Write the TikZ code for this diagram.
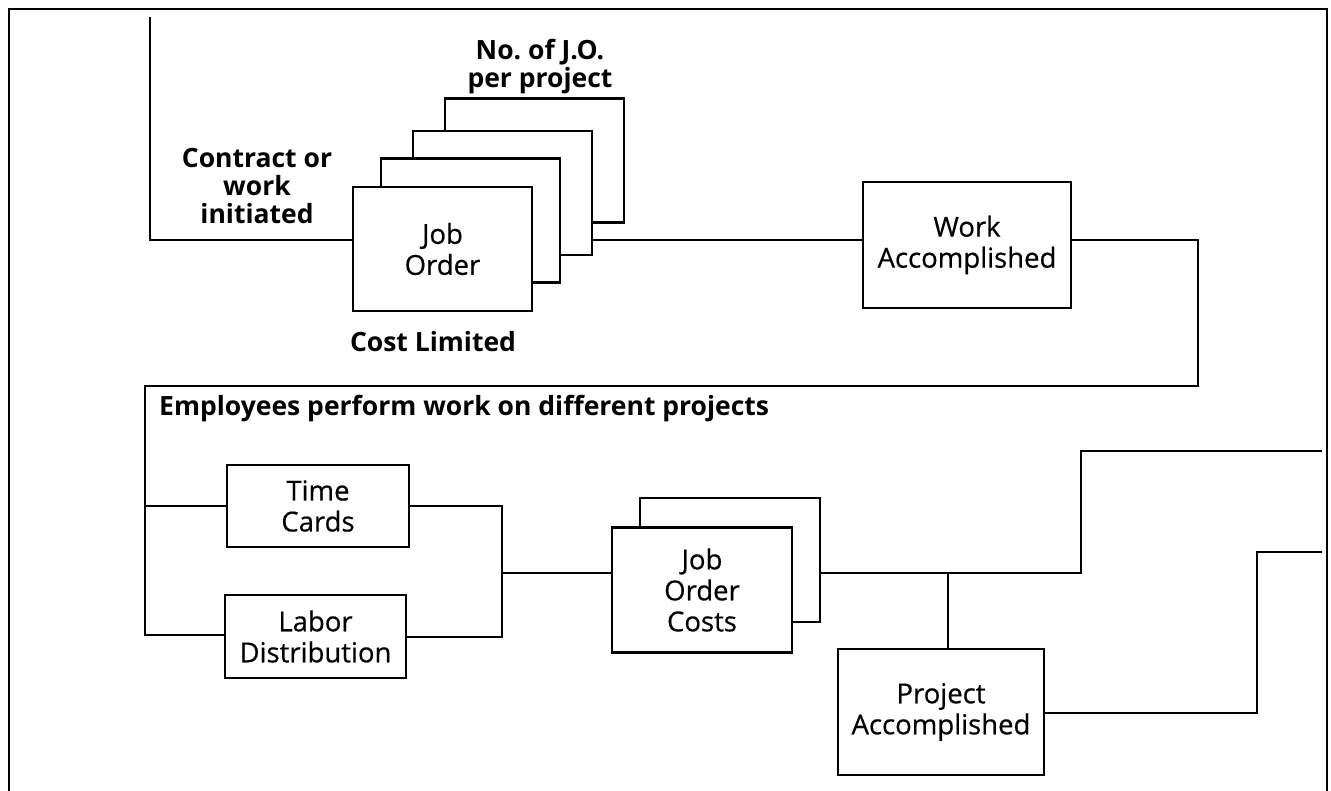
\documentclass[tikz,border=0pt]{standalone}
\usepackage{fontspec}
\setmainfont{Open Sans}
\usetikzlibrary{calc}
\frenchspacing
\tikzset{
  wire/.style={line width=2.9pt, line cap=rect},
  card/.style={draw, line width=2.9pt, fill=white, align=center,
    inner sep=0pt, font=\fontsize{27.5}{31}\selectfont\addfontfeature{FakeBold=0.5}},
  caption/.style={align=center, inner sep=0pt,
    font=\fontsize{26.5}{28}\selectfont\bfseries},
}
\begin{document}
\begin{tikzpicture}[x=1pt, y=-1pt]
  \useasboundingbox (0,0) rectangle (1331,791);
  % outer frame
  \draw[line width=2.9pt] (9,791) -- (9,9) -- (1327,9) -- (1327,791);

  % stack of job orders
  \node[card, minimum width=179pt, minimum height=124pt] (jo4) at (534.5,160.5) {};
  \node[card, minimum width=179pt, minimum height=124pt] (jo3) at (502.5,193) {};
  \node[card, minimum width=179pt, minimum height=124pt] (jo2) at (470.5,220.5) {};
  \node[card, minimum width=179pt, minimum height=124pt] (jo) at (442.5,249) {Job\\Order};

  \node[card, minimum width=208pt, minimum height=126pt] (wa) at (967,245) {Work\\Accomplished};

  \node[card, minimum width=182pt, minimum height=82pt] (tc) at (318,506) {Time\\Cards};
  \node[card, minimum width=181pt, minimum height=83pt] (ld) at (315.5,636.5) {Labor\\Distribution};

  \node[card, minimum width=180pt, minimum height=124pt] (jocb) at (730,560) {};
  \node[card, minimum width=180pt, minimum height=125pt] (joc) at (702,590) {Job\\Order\\Costs};

  \node[card, minimum width=206pt, minimum height=126pt] (pa) at (941,712) {Project\\Accomplished};

  % captions
  \node[caption] (initiated) at (257,186) {Contract or\\work\\initiated};
  \node[caption] (perproj) at (540,67) {No. of J.O.\\per project};
  \node[caption] (limited) at (433,342) {Cost Limited};
  \node[caption, anchor=west] (employees) at (159,409) {Employees perform work on different projects};

  % free ends and corners
  \coordinate (start) at (150,18);
  \coordinate (outA) at (1321,451);
  \coordinate (outB) at (1321,552);

  % connectors
  \draw[wire] (start) -- (150,240) -- (jo.west |- 0,240);
  \draw[wire] (jo3.east |- 0,240) -- (wa.west |- 0,240);
  \draw[wire] (wa.east |- 0,240) -- (1198,240) -- (1198,386) -- (145,386)
              -- (145,635) -- (ld.west |- 0,635);
  \draw[wire] (145,506) -- (tc.west);
  \draw[wire] (tc.east) -- (502,506) -- (502,637) -- (ld.east |- 0,637);
  \draw[wire] (502,573) -- (joc.west |- 0,573);
  \draw[wire] (jocb.east |- 0,573) -- (1081,573) -- (1081,451) -- (outA);
  \draw[wire] (948,573) -- (pa.north -| 948,0);
  \draw[wire] (pa.east |- 0,713) -- (1257,713) -- (1257,552) -- (outB);
\end{tikzpicture}
\end{document}
